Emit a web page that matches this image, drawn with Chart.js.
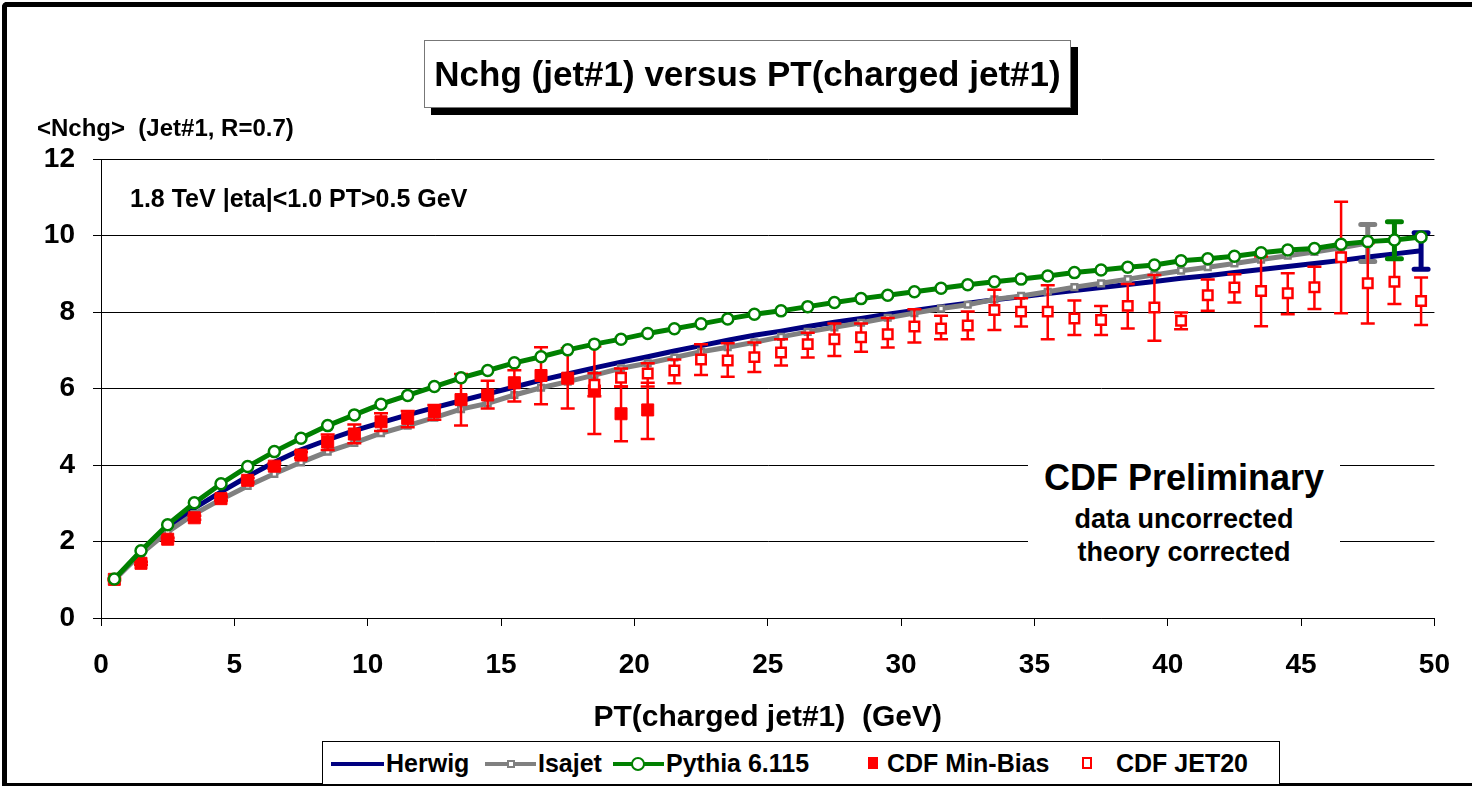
<!DOCTYPE html>
<html>
<head>
<meta charset="utf-8">
<script src="https://cdn.jsdelivr.net/npm/chart.js@4.4.1/dist/chart.umd.min.js"></script>
<style>
  body { margin: 0; background: #fff; }
  #page { position: relative; width: 1472px; height: 787px; overflow: hidden; background: #fff;
          font-family: "Liberation Sans", Arial, sans-serif; font-weight: bold; color: #000; }
  #frame { position: absolute; left: 2px; top: 2px; width: 1490px; height: 776px;
           border-top: 5px solid #000; border-left: 5px solid #000; border-bottom: 3px solid #000;
           border-top-left-radius: 5px; }
  #chart-wrap { position: absolute; left: 0; top: 0; width: 1472px; height: 787px; }
  .txt { position: absolute; white-space: pre; line-height: 1; }
  #title-box { position: absolute; left: 424px; top: 40px; width: 645px; height: 66px;
               background: #fff; border: 1px solid #777; box-shadow: 7px 7px 0 #000;
               font-size: 35px; line-height: 66px; text-align: center; white-space: pre; }
  #prelim { position: absolute; left: 1028px; top: 452px; width: 312px; height: 118px; background: #fff; text-align: center; }
  #legend { position: absolute; left: 322px; top: 741px; width: 956px; height: 42px;
            border: 1px solid #000; background: #fff; }
  .lg { position: absolute; }
  .lg-text { position: absolute; top: 6px; font-size: 25px; line-height: 30px; white-space: pre; }
</style>
</head>
<body>
<div id="page">
  <div id="frame"></div>
  <div id="chart-wrap"><canvas id="chart"></canvas></div>

  <div id="title-box">Nchg (jet#1) versus PT(charged jet#1)</div>
  <div class="txt" style="left:37px; top:116px; font-size:24px;">&lt;Nchg&gt;  (Jet#1, R=0.7)</div>
  <div class="txt" style="left:130px; top:186px; font-size:25px;">1.8 TeV |eta|&lt;1.0 PT&gt;0.5 GeV</div>

  <div id="prelim">
    <div class="txt" style="left:0; width:312px; top:8px; font-size:36px; text-align:center;">CDF Preliminary</div>
    <div class="txt" style="left:0; width:312px; top:54px; font-size:27px; text-align:center;">data uncorrected</div>
    <div class="txt" style="left:0; width:312px; top:87px; font-size:27px; text-align:center;">theory corrected</div>
  </div>

  <div id="legend">
    <div class="lg" style="left:8px; top:20px; width:53px; height:4px; background:#000080;"></div>
    <div class="lg-text" style="left:63px;">Herwig</div>
    <div class="lg" style="left:162px; top:20px; width:51px; height:4px; background:#808080;"></div>
    <div class="lg" style="left:184px; top:18px; width:4px; height:4px; border:2px solid #808080; background:#fff;"></div>
    <div class="lg-text" style="left:215px;">Isajet</div>
    <div class="lg" style="left:290px; top:20px; width:51px; height:4px; background:#008000;"></div>
    <div class="lg" style="left:308px; top:15px; width:10px; height:10px; border:2.5px solid #008000; border-radius:50%; background:#fff;"></div>
    <div class="lg-text" style="left:343px;">Pythia 6.115</div>
    <div class="lg" style="left:545px; top:15px; width:10px; height:12px; background:#ff0000;"></div>
    <div class="lg-text" style="left:564px;">CDF Min-Bias</div>
    <div class="lg" style="left:759px; top:15px; width:6px; height:8px; border:2.5px solid #ff0000; background:#fff;"></div>
    <div class="lg-text" style="left:793px;">CDF JET20</div>
  </div>
</div>

<script>
// PT bins (GeV), bin centres
const theoryPt = [0.5, 1.5, 2.5, 3.5, 4.5, 5.5, 6.5, 7.5, 8.5, 9.5,
  10.5, 11.5, 12.5, 13.5, 14.5, 15.5, 16.5, 17.5, 18.5, 19.5,
  20.5, 21.5, 22.5, 23.5, 24.5, 25.5, 26.5, 27.5, 28.5, 29.5,
  30.5, 31.5, 32.5, 33.5, 34.5, 35.5, 36.5, 37.5, 38.5, 39.5,
  40.5, 41.5, 42.5, 43.5, 44.5, 45.5, 46.5, 47.5, 48.5, 49.5];

const herwig = [1.0, 1.72, 2.35, 2.87, 3.3, 3.7, 4.07, 4.4, 4.66, 4.9,
  5.11, 5.31, 5.5, 5.68, 5.86, 6.04, 6.22, 6.38, 6.54, 6.69,
  6.83, 6.98, 7.12, 7.26, 7.39, 7.5, 7.62, 7.73, 7.83, 7.94,
  8.04, 8.14, 8.23, 8.32, 8.4, 8.48, 8.56, 8.64, 8.72, 8.8,
  8.88, 8.95, 9.03, 9.11, 9.19, 9.27, 9.35, 9.44, 9.52, 9.6];

const isajet = [1.0, 1.68, 2.25, 2.72, 3.1, 3.45, 3.77, 4.07, 4.35, 4.58,
  4.83, 5.03, 5.24, 5.46, 5.61, 5.83, 6.02, 6.18, 6.35, 6.53,
  6.66, 6.81, 6.96, 7.08, 7.21, 7.35, 7.48, 7.6, 7.72, 7.85,
  7.97, 8.09, 8.19, 8.33, 8.42, 8.53, 8.65, 8.75, 8.86, 8.97,
  9.08, 9.17, 9.27, 9.37, 9.47, 9.57, 9.68, 9.8];

const pythia = [1.02, 1.76, 2.44, 3.01, 3.51, 3.96, 4.35, 4.7, 5.03, 5.31,
  5.59, 5.82, 6.05, 6.28, 6.47, 6.67, 6.83, 7.01, 7.16, 7.29,
  7.44, 7.56, 7.69, 7.82, 7.94, 8.03, 8.14, 8.25, 8.35, 8.44,
  8.53, 8.62, 8.71, 8.79, 8.86, 8.94, 9.03, 9.1, 9.17, 9.23,
  9.34, 9.39, 9.46, 9.55, 9.62, 9.66, 9.77, 9.84, 9.88, 9.96];

// theory uncertainty shown on one bin each
const herwigErrPt = [49.5], herwigErrLo = [9.12], herwigErrHi = [10.07];
const isajetErrPt = [47.5], isajetErrLo = [9.32], isajetErrHi = [10.29];
const pythiaErrPt = [48.5], pythiaErrLo = [9.39], pythiaErrHi = [10.36];

// CDF Min-Bias data
const minBiasPt = [0.5, 1.5, 2.5, 3.5, 4.5, 5.5, 6.5, 7.5, 8.5, 9.5,
  10.5, 11.5, 12.5, 13.5, 14.5, 15.5, 16.5, 17.5, 18.5, 19.5, 20.5];
const minBias = [1.01, 1.43, 2.06, 2.62, 3.12, 3.6, 3.97, 4.26, 4.6, 4.81,
  5.13, 5.22, 5.4, 5.71, 5.83, 6.15, 6.34, 6.27, 5.94, 5.34, 5.44];
const minBiasLo = [0.99, 1.39, 2.02, 2.57, 3.07, 3.54, 3.9, 4.18, 4.39, 4.57,
  4.89, 4.99, 5.18, 5.03, 5.48, 5.66, 5.59, 5.48, 4.81, 4.62, 4.68];
const minBiasHi = [1.03, 1.47, 2.1, 2.67, 3.17, 3.66, 4.04, 4.34, 4.8, 5.06,
  5.35, 5.41, 5.57, 6.38, 6.2, 6.48, 7.08, 7.05, 7.1, 6.05, 6.15];

// CDF JET20 data
const jet20Pt = [18.5, 19.5, 20.5, 21.5, 22.5, 23.5, 24.5, 25.5, 26.5, 27.5,
  28.5, 29.5, 30.5, 31.5, 32.5, 33.5, 34.5, 35.5, 36.5, 37.5,
  38.5, 39.5, 40.5, 41.5, 42.5, 43.5, 44.5, 45.5, 46.5, 47.5, 48.5, 49.5];
const jet20 = [6.1, 6.28, 6.39, 6.47, 6.76, 6.73, 6.82, 6.94, 7.16, 7.29,
  7.34, 7.42, 7.62, 7.57, 7.65, 8.05, 8.01, 8.01, 7.83, 7.79,
  8.16, 8.12, 7.77, 8.44, 8.64, 8.55, 8.49, 8.65, 9.43, 8.75, 8.79, 8.29];
const jet20Lo = [5.8, 6.05, 6.05, 6.14, 6.35, 6.31, 6.43, 6.6, 6.81, 6.85,
  6.96, 7.07, 7.2, 7.29, 7.29, 7.53, 7.62, 7.29, 7.4, 7.4,
  7.57, 7.25, 7.55, 8.03, 8.25, 7.63, 7.94, 8.08, 7.97, 7.7, 8.21, 7.66];
const jet20Hi = [6.4, 6.52, 6.66, 6.76, 7.16, 7.18, 7.2, 7.29, 7.46, 7.7,
  7.7, 7.84, 8.07, 7.9, 8.01, 8.58, 8.36, 8.7, 8.3, 8.16,
  8.73, 8.97, 7.99, 8.85, 8.99, 9.45, 9.01, 9.18, 10.88, 9.8, 9.38, 8.9];

const xTicksMax = 50;
const yTicksMax = 12;

const toXY = (xs, ys) => ys.map((v, i) => ({ x: xs[i], y: v }));

// draws vertical error bars with caps, under the dataset's own markers
const errorBars = {
  id: 'errorBars',
  beforeDatasetDraw(chart, args) {
    const ds = chart.data.datasets[args.index];
    if (!ds.err) return;
    const xs = chart.scales.x, ys = chart.scales.y, ctx = chart.ctx;
    const e = ds.err;
    ctx.save();
    ctx.strokeStyle = e.color;
    ctx.lineWidth = e.width;
    ctx.lineCap = e.lineCap;
    e.pt.forEach((p, i) => {
      const px = xs.getPixelForValue(p);
      const lo = ys.getPixelForValue(e.lo[i]);
      const hi = ys.getPixelForValue(e.hi[i]);
      ctx.beginPath();
      ctx.moveTo(px, lo); ctx.lineTo(px, hi);
      ctx.moveTo(px - e.cap, lo); ctx.lineTo(px + e.cap, lo);
      ctx.moveTo(px - e.cap, hi); ctx.lineTo(px + e.cap, hi);
      ctx.stroke();
    });
    ctx.restore();
  }
};

Chart.defaults.font.family = '"Liberation Sans", Arial, sans-serif';
Chart.defaults.font.weight = 'bold';
Chart.defaults.color = '#000';

const ctx = document.getElementById('chart').getContext('2d');
new Chart(ctx, {
  type: 'line',
  data: {
    datasets: [
      {
        label: 'Herwig',
        data: toXY(theoryPt, herwig),
        borderColor: '#000080',
        borderWidth: 5,
        pointRadius: 0,
        tension: 0,
        order: 4,
        err: { pt: herwigErrPt, lo: herwigErrLo, hi: herwigErrHi, color: '#000080', width: 5, cap: 7, lineCap: 'round' }
      },
      {
        label: 'Isajet',
        data: toXY(theoryPt, isajet),
        borderColor: '#808080',
        borderWidth: 5,
        pointStyle: 'rect',
        pointRadius: 4,
        pointBorderWidth: 2.5,
        pointBorderColor: '#808080',
        pointBackgroundColor: '#fff',
        tension: 0,
        order: 3,
        err: { pt: isajetErrPt, lo: isajetErrLo, hi: isajetErrHi, color: '#808080', width: 5, cap: 7, lineCap: 'round' }
      },
      {
        label: 'Pythia 6.115',
        data: toXY(theoryPt, pythia),
        borderColor: '#008000',
        borderWidth: 5,
        pointStyle: 'circle',
        pointRadius: 5.5,
        pointBorderWidth: 2.5,
        pointBorderColor: '#008000',
        pointBackgroundColor: '#fff',
        tension: 0,
        order: 0,
        err: { pt: pythiaErrPt, lo: pythiaErrLo, hi: pythiaErrHi, color: '#008000', width: 5, cap: 7, lineCap: 'round' }
      },
      {
        label: 'CDF Min-Bias',
        data: toXY(minBiasPt, minBias),
        showLine: false,
        pointStyle: 'rect',
        pointRadius: 8.5,
        pointBorderWidth: 1,
        pointBorderColor: '#ff0000',
        pointBackgroundColor: '#ff0000',
        order: 2,
        err: { pt: minBiasPt, lo: minBiasLo, hi: minBiasHi, color: '#ff0000', width: 2.5, cap: 7, lineCap: 'butt' }
      },
      {
        label: 'CDF JET20',
        data: toXY(jet20Pt, jet20),
        showLine: false,
        pointStyle: 'rect',
        pointRadius: 6.7,
        pointBorderWidth: 2.5,
        pointBorderColor: '#ff0000',
        pointBackgroundColor: '#fff',
        order: 1,
        err: { pt: jet20Pt, lo: jet20Lo, hi: jet20Hi, color: '#ff0000', width: 2.5, cap: 7, lineCap: 'butt' }
      }
    ]
  },
  options: {
    responsive: true,
    maintainAspectRatio: false,
    animation: false,
    layout: { padding: { left: 0, top: 159, right: 33, bottom: 51 } },
    plugins: {
      legend: { display: false },
      tooltip: { enabled: false }
    },
    scales: {
      x: {
        type: 'linear',
        min: 0,
        max: xTicksMax,
        afterFit: (scale) => { scale.height = 118; },
        grid: { drawOnChartArea: false, drawTicks: true, tickLength: 8, color: '#000', lineWidth: 1 },
        border: { display: true, color: '#000', width: 1 },
        ticks: { stepSize: 5, padding: 22, font: { size: 28, weight: 'bold' }, color: '#000', maxRotation: 0 },
        title: { display: true, text: 'PT(charged jet#1)  (GeV)', font: { size: 30, weight: 'bold' }, color: '#000', padding: 0 }
      },
      y: {
        min: 0,
        max: yTicksMax,
        afterFit: (scale) => { scale.width = 101; },
        grid: { drawTicks: true, tickLength: 8, color: '#000', lineWidth: 1 },
        border: { display: true, color: '#000', width: 1 },
        ticks: { stepSize: 2, padding: 18, font: { size: 28, weight: 'bold' }, color: '#000' }
      }
    }
  },
  plugins: [errorBars]
});
</script>
</body>
</html>
